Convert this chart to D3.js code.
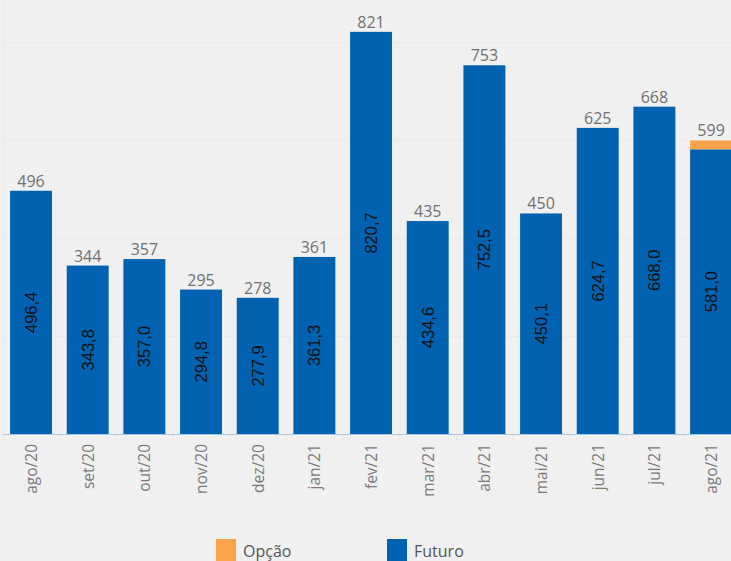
<!DOCTYPE html>
<html>
<head>
<meta charset="utf-8">
<script src="https://d3js.org/d3.v7.min.js"></script>
<style>
  body { margin: 0; background: #f0f0f0; }
  svg { display: block; }
</style>
</head>
<body>
<svg id="chart" width="731" height="561"></svg>
<script>
  // data
  const months = ['ago/20', 'set/20', 'out/20', 'nov/20', 'dez/20', 'jan/21', 'fev/21',
    'mar/21', 'abr/21', 'mai/21', 'jun/21', 'jul/21', 'ago/21']
  const futuro = [496.4, 343.8, 357.0, 294.8, 277.9, 361.3, 820.7, 434.6, 752.5, 450.1, 624.7, 668.0, 581.0]
  const opcao = [0, 0, 0, 0, 0, 0, 0, 0, 0, 0, 0, 0, 18.0]
  const gridValues = [200, 400, 600, 800]
  const legendItems = ['Opção', 'Futuro']

  const blue = '#0062b0'
  const orange = '#f9a34b'

  const svg = d3.select('#chart')
  const pt = d3.formatLocale({ decimal: ',', thousands: '.', grouping: [3], currency: ['', ''] })
  const fmt1 = pt.format('.1f')

  const xs = d3.scaleBand().domain(months).range([2.7, 739.4])
    .paddingInner(0.26).paddingOuter(0.13)
  const ys = d3.scaleLinear().domain([0, 800]).range([434, 42])

  // faint grid
  svg.append('g').selectAll('line').data(gridValues).enter().append('line')
    .attr('x1', 3).attr('x2', 731)
    .attr('y1', d => ys(d) + 0.5).attr('y2', d => ys(d) + 0.5)
    .attr('stroke', '#eaeaea').attr('stroke-width', 1)
  svg.append('line').attr('x1', 3.5).attr('x2', 3.5).attr('y1', 0).attr('y2', 434)
    .attr('stroke', '#e8e8e8')

  const rows = months.map((m, i) => ({ m: m, f: futuro[i], o: opcao[i], t: futuro[i] + opcao[i] }))

  // futuro bars
  svg.append('g').selectAll('rect').data(rows).enter().append('rect')
    .attr('x', d => xs(d.m))
    .attr('width', xs.bandwidth())
    .attr('y', d => ys(d.f))
    .attr('height', d => ys(0) - ys(d.f))
    .attr('fill', blue)

  // opcao bars
  svg.append('g').selectAll('rect').data(rows.filter(d => d.o > 0)).enter().append('rect')
    .attr('x', d => xs(d.m))
    .attr('width', xs.bandwidth())
    .attr('y', d => ys(d.t))
    .attr('height', d => ys(d.f) - ys(d.t))
    .attr('fill', orange)

  // baseline + ticks
  svg.append('line').attr('x1', 3).attr('x2', 731).attr('y1', 434.5).attr('y2', 434.5)
    .attr('stroke', '#a9c8e6').attr('stroke-width', 1)
  svg.append('g').selectAll('line').data(months).enter().append('line')
    .attr('x1', d => xs(d) - xs.step() * 0.13 + 0.5)
    .attr('x2', d => xs(d) - xs.step() * 0.13 + 0.5)
    .attr('y1', 435).attr('y2', 440)
    .attr('stroke', '#dcdcdc').attr('stroke-dasharray', '1,1')

  // inner labels
  svg.append('g').selectAll('text').data(rows).enter().append('text')
    .attr('transform', d => 'translate(' + (xs(d.m) + xs.bandwidth() / 2 + 6) + ',' +
      ((ys(d.f) + ys(0)) / 2) + ') rotate(-90)')
    .attr('text-anchor', 'middle')
    .attr('font-family', 'Liberation Sans, Arial, sans-serif')
    .attr('font-size', 16.5)
    .attr('fill', '#111')
    .text(d => fmt1(d.f))

  // totals
  svg.append('g').selectAll('text').data(rows).enter().append('text')
    .attr('x', d => xs(d.m) + xs.bandwidth() / 2)
    .attr('y', d => ys(d.t) - 4)
    .attr('text-anchor', 'middle')
    .attr('font-family', 'Open Sans, sans-serif')
    .attr('font-size', 16)
    .attr('fill', '#707070')
    .text(d => Math.round(d.t))

  // x labels
  svg.append('g').selectAll('text').data(months).enter().append('text')
    .attr('transform', d => 'translate(' + (xs(d) + xs.bandwidth() / 2 + 6) + ',444) rotate(-90)')
    .attr('text-anchor', 'end')
    .attr('font-family', 'Open Sans, sans-serif')
    .attr('font-size', 15.5)
    .attr('fill', '#7a7a7a')
    .text(d => d)

  // legend
  const lg = svg.append('g').selectAll('g').data(legendItems).enter().append('g')
    .attr('transform', (d, i) => 'translate(' + (216 + i * 171) + ',539)')
  lg.append('rect').attr('width', 20).attr('height', 22)
    .attr('fill', (d, i) => i == 0 ? orange : blue)
  lg.append('text').attr('x', 27).attr('y', 18)
    .attr('font-family', 'Open Sans, sans-serif')
    .attr('font-size', 16)
    .attr('fill', '#555')
    .text(d => d)
</script>
</body>
</html>
